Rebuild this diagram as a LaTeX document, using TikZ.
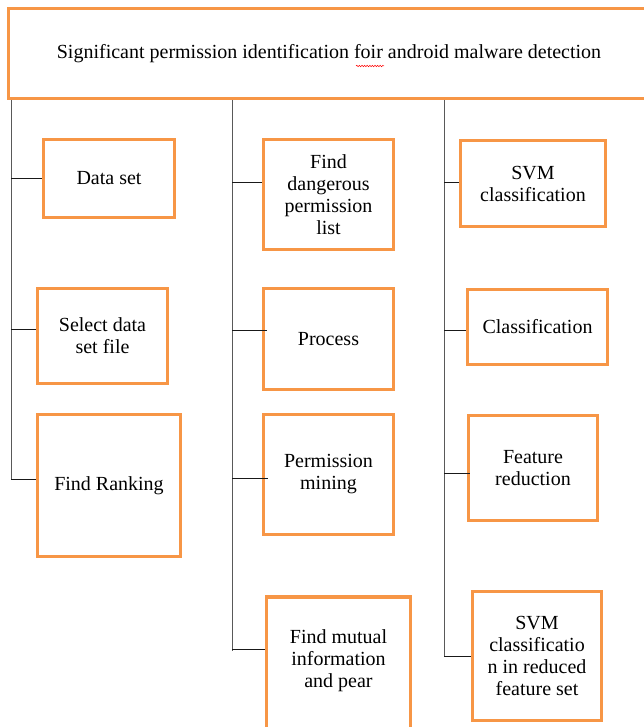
\documentclass[tikz,border=0pt]{standalone}
\usepackage{fontspec}
\setmainfont{Liberation Serif}
\newfontfamily\boxfont{Liberation Serif}
\usetikzlibrary{decorations.pathmorphing}
\definecolor{boxorange}{RGB}{247,150,70}
\tikzset{
  stepbox/.style={draw=boxorange, line width=3.5pt, align=center, inner sep=2pt,
    font=\boxfont\fontsize{20}{22}\selectfont},
  trunk/.style={draw=black!65, line width=0.9pt},
  branch/.style={draw=black!90, line width=0.9pt}
}
\begin{document}
\begin{tikzpicture}[x=1pt,y=-1pt]
\useasboundingbox (0,0) rectangle (644,727);
% title
\node[stepbox, line width=3pt, minimum width=641pt, minimum height=90pt] (title) at (329,54)
  {Significant permission identification foir android malware detection};
\draw[red, line width=0.5pt, decorate, decoration={snake, amplitude=0.7pt, segment length=2.6pt}]
  (356,66) -- (384,66);
% first column
\node[stepbox, minimum width=131pt, minimum height=78pt] (dset) at (109,178.5) {Data set};
\node[stepbox, minimum width=130pt, minimum height=95pt] (sel) at (102.5,336) {Select data\\set file};
\node[stepbox, minimum width=143pt, minimum height=142pt] (rank) at (109,485.5) {Find Ranking};
% second column
\node[stepbox, minimum width=130pt, minimum height=110pt] (fdp) at (328.5,194.5) {Find\\dangerous\\permission\\list};
\node[stepbox, minimum width=130pt, minimum height=101pt] (proc) at (328.5,339) {Process};
\node[stepbox, minimum width=130pt, minimum height=120pt] (pmin) at (328.5,474.5) {Permission\\mining};
\node[stepbox, minimum width=144pt, minimum height=140pt] (mutual) at (338.5,667)
  {Find mutual\\information\\and pear\rule[-16pt]{0pt}{16pt}};
% third column
\node[stepbox, minimum width=145pt, minimum height=86pt] (svm) at (533,183.5) {SVM\\classification};
\node[stepbox, minimum width=140pt, minimum height=75pt] (cls) at (537.5,327) {Classification};
\node[stepbox, minimum width=129pt, minimum height=105pt] (fred) at (533,468) {Feature\\reduction};
\node[stepbox, minimum width=129pt, minimum height=129pt] (svmr) at (537,656) {SVM\\classificatio\\n in reduced\\feature set};
% trunks
\coordinate (t1) at (11,480);
\coordinate (t2) at (232,651);
\coordinate (t3) at (444,657);
\draw[trunk] (title.south -| t1) -- (t1);
\draw[trunk] (title.south -| t2) -- (t2);
\draw[trunk] (title.south -| t3) -- (t3);
% branches
\draw[branch] (dset.west) -- (dset.west -| t1);
\draw[branch] ([yshift=7pt]sel.west) -- ([yshift=7pt]sel.west -| t1);
\draw[branch] ([yshift=6.5pt]rank.west) -- ([yshift=6.5pt]rank.west -| t1);
\draw[branch] ([yshift=12.5pt]fdp.west) -- ([yshift=12.5pt]fdp.west -| t2);
\draw[branch] ([yshift=9pt,xshift=5pt]proc.west) -- ([yshift=9pt]proc.west -| t2);
\draw[branch] ([yshift=-3.5pt,xshift=6pt]pmin.west) -- ([yshift=-3.5pt]pmin.west -| t2);
\draw[branch] ([yshift=18pt]mutual.west) -- ([yshift=18pt]mutual.west -| t2);
\draw[branch] ([yshift=1.5pt]svm.west) -- ([yshift=1.5pt]svm.west -| t3);
\draw[branch] ([yshift=-3pt]cls.west) -- ([yshift=-3pt]cls.west -| t3);
\draw[branch] ([yshift=-5pt,xshift=3pt]fred.west) -- ([yshift=-5pt]fred.west -| t3);
\draw[branch] (svmr.west) -- (svmr.west -| t3);
\end{tikzpicture}
\end{document}
